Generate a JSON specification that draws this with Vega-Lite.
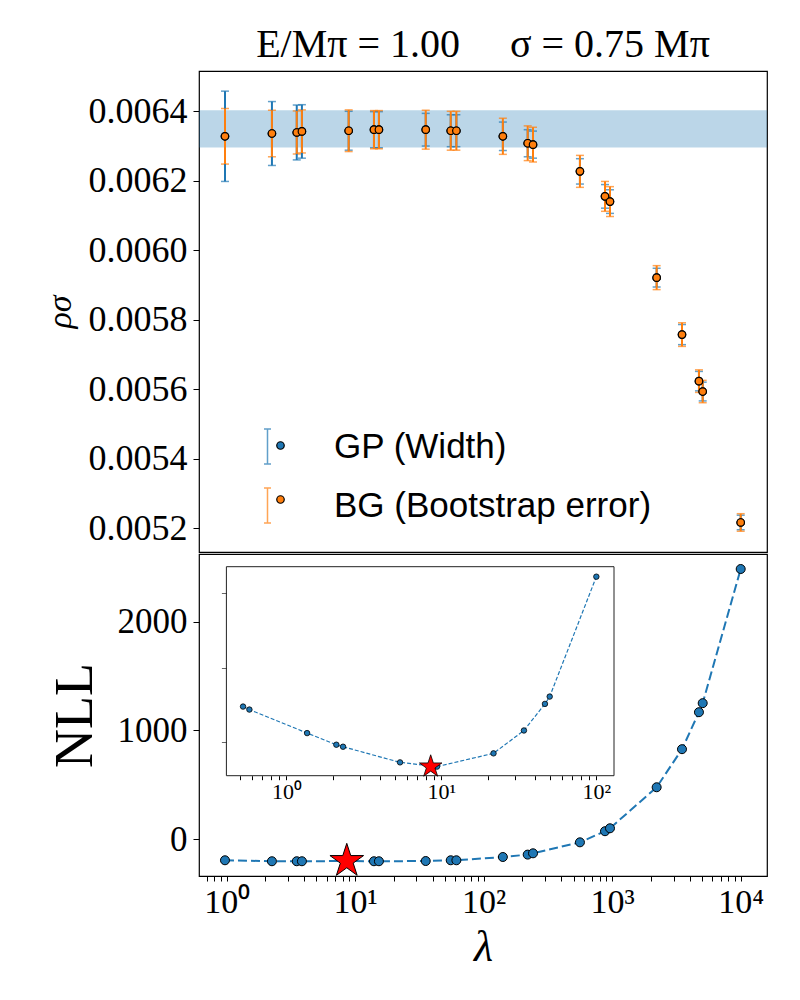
{
  "$schema": "https://vega.github.io/schema/vega-lite/v6.json",
  "padding": {"left": 42, "top": 24, "right": 10, "bottom": 10},
  "background": "white",
  "spacing": 0,
  "config": {
    "view": {"stroke": "black", "strokeWidth": 1.2},
    "axis": {"grid": false, "domain": false, "tickColor": "black", "labelColor": "black", "titleColor": "black", "labelFont": "Liberation Serif", "titleFont": "Liberation Serif", "titleFontWeight": "normal"}
  },
  "datasets": {
    "top": [
      {"lam": 0.97, "val": 0.006328, "err": 0.00013, "s": "GP (Width)"},
      {"lam": 2.25, "val": 0.006336, "err": 0.000092, "s": "GP (Width)"},
      {"lam": 3.51, "val": 0.006339, "err": 0.000079, "s": "GP (Width)"},
      {"lam": 3.85, "val": 0.006342, "err": 0.000077, "s": "GP (Width)"},
      {"lam": 8.9, "val": 0.006344, "err": 0.000056, "s": "GP (Width)"},
      {"lam": 14.0, "val": 0.006347, "err": 0.000052, "s": "GP (Width)"},
      {"lam": 15.3, "val": 0.006347, "err": 0.000052, "s": "GP (Width)"},
      {"lam": 35.4, "val": 0.006347, "err": 0.000047, "s": "GP (Width)"},
      {"lam": 55.4, "val": 0.006344, "err": 0.000046, "s": "GP (Width)"},
      {"lam": 61.3, "val": 0.006344, "err": 0.000046, "s": "GP (Width)"},
      {"lam": 141, "val": 0.006328, "err": 0.000041, "s": "GP (Width)"},
      {"lam": 220, "val": 0.006308, "err": 0.000039, "s": "GP (Width)"},
      {"lam": 242, "val": 0.006304, "err": 0.000039, "s": "GP (Width)"},
      {"lam": 561, "val": 0.006227, "err": 0.0000365, "s": "GP (Width)"},
      {"lam": 879, "val": 0.006155, "err": 0.000034, "s": "GP (Width)"},
      {"lam": 961, "val": 0.00614, "err": 0.000034, "s": "GP (Width)"},
      {"lam": 2218, "val": 0.005921, "err": 0.000027, "s": "GP (Width)"},
      {"lam": 3493, "val": 0.005757, "err": 0.000029, "s": "GP (Width)"},
      {"lam": 4733, "val": 0.005623, "err": 0.000028, "s": "GP (Width)"},
      {"lam": 5061, "val": 0.005593, "err": 0.000027, "s": "GP (Width)"},
      {"lam": 10000, "val": 0.005216, "err": 0.000021, "s": "GP (Width)"},
      {"lam": 0.97, "val": 0.006328, "err": 0.00008, "s": "BG (Bootstrap error)"},
      {"lam": 2.25, "val": 0.006336, "err": 0.000067, "s": "BG (Bootstrap error)"},
      {"lam": 3.51, "val": 0.006339, "err": 0.000062, "s": "BG (Bootstrap error)"},
      {"lam": 3.85, "val": 0.006342, "err": 0.000062, "s": "BG (Bootstrap error)"},
      {"lam": 8.9, "val": 0.006344, "err": 0.00006, "s": "BG (Bootstrap error)"},
      {"lam": 14.0, "val": 0.006347, "err": 0.000055, "s": "BG (Bootstrap error)"},
      {"lam": 15.3, "val": 0.006347, "err": 0.000055, "s": "BG (Bootstrap error)"},
      {"lam": 35.4, "val": 0.006347, "err": 0.000056, "s": "BG (Bootstrap error)"},
      {"lam": 55.4, "val": 0.006344, "err": 0.000056, "s": "BG (Bootstrap error)"},
      {"lam": 61.3, "val": 0.006344, "err": 0.000056, "s": "BG (Bootstrap error)"},
      {"lam": 141, "val": 0.006328, "err": 0.000052, "s": "BG (Bootstrap error)"},
      {"lam": 220, "val": 0.006308, "err": 0.00005, "s": "BG (Bootstrap error)"},
      {"lam": 242, "val": 0.006304, "err": 0.00005, "s": "BG (Bootstrap error)"},
      {"lam": 561, "val": 0.006227, "err": 0.000046, "s": "BG (Bootstrap error)"},
      {"lam": 879, "val": 0.006155, "err": 0.000043, "s": "BG (Bootstrap error)"},
      {"lam": 961, "val": 0.00614, "err": 0.000043, "s": "BG (Bootstrap error)"},
      {"lam": 2218, "val": 0.005921, "err": 0.0000345, "s": "BG (Bootstrap error)"},
      {"lam": 3493, "val": 0.005757, "err": 0.000034, "s": "BG (Bootstrap error)"},
      {"lam": 4733, "val": 0.005623, "err": 0.0000325, "s": "BG (Bootstrap error)"},
      {"lam": 5061, "val": 0.005593, "err": 0.0000322, "s": "BG (Bootstrap error)"},
      {"lam": 10000, "val": 0.005216, "err": 0.0000253, "s": "BG (Bootstrap error)"}
    ],
    "nll": [
      {"lam": 0.97, "nll": -193},
      {"lam": 2.25, "nll": -202},
      {"lam": 3.51, "nll": -202},
      {"lam": 3.85, "nll": -202},
      {"lam": 8.9, "nll": -200},
      {"lam": 14.0, "nll": -202},
      {"lam": 15.3, "nll": -202},
      {"lam": 35.4, "nll": -200},
      {"lam": 55.4, "nll": -193},
      {"lam": 61.3, "nll": -193},
      {"lam": 141, "nll": -163},
      {"lam": 220, "nll": -141},
      {"lam": 242, "nll": -129},
      {"lam": 561, "nll": -28},
      {"lam": 879, "nll": 74},
      {"lam": 961, "nll": 101},
      {"lam": 2218, "nll": 478},
      {"lam": 3493, "nll": 828},
      {"lam": 4733, "nll": 1168},
      {"lam": 5061, "nll": 1251},
      {"lam": 10000, "nll": 2484}
    ],
    "inset": [
      {"lam": 0.525, "v": 47.6},
      {"lam": 0.577, "v": 43.6},
      {"lam": 1.36, "v": 12.0},
      {"lam": 2.10, "v": -3.6},
      {"lam": 2.32, "v": -6.3},
      {"lam": 5.41, "v": -27.3},
      {"lam": 9.37, "v": -33.0},
      {"lam": 21.7, "v": -15.2},
      {"lam": 34.1, "v": 15.5},
      {"lam": 46.6, "v": 51.2},
      {"lam": 50.0, "v": 61.0},
      {"lam": 100, "v": 222}
    ]
  },
  "vconcat": [
    {
      "width": 568,
      "height": 481,
      "title": {"text": "E/Mπ\u00a0= 1.00\u00a0\u00a0\u00a0\u00a0\u00a0σ = 0.75 Mπ", "font": "Liberation Serif", "fontSize": 40, "fontWeight": "normal", "color": "black", "anchor": "middle", "offset": 6},
      "layer": [
        {
          "data": {"values": [{}]},
          "mark": {"type": "rect", "color": "#1f77b4", "opacity": 0.3},
          "encoding": {
            "y": {"datum": 0.006296, "type": "quantitative", "scale": {"domain": [0.005131, 0.006516], "nice": false, "zero": false}},
            "y2": {"datum": 0.006403}
          }
        },
        {
          "data": {"name": "top"},
          "mark": {"type": "errorbar", "thickness": 2, "ticks": {"size": 8, "thickness": 1.5}},
          "encoding": {
            "x": {"field": "lam", "type": "quantitative", "scale": {"type": "log", "domain": [0.609, 16020], "nice": false}, "axis": null},
            "y": {"field": "val", "type": "quantitative", "scale": {"domain": [0.005131, 0.006516], "nice": false, "zero": false},
                  "axis": {"values": [0.0052, 0.0054, 0.0056, 0.0058, 0.006, 0.0062, 0.0064], "format": ".4f", "labelFontSize": 36, "tickSize": 6, "labelPadding": 6, "title": "ρσ", "titleFontSize": 34, "titleFontStyle": "italic", "titlePadding": 11}},
            "yError": {"field": "err"},
            "color": {"field": "s", "type": "nominal", "scale": {"domain": ["GP (Width)", "BG (Bootstrap error)"], "range": ["#1f77b4", "#ff7f0e"]},
                      "legend": {"orient": "none", "legendX": 50, "legendY": 357, "title": null, "padding": 0, "symbolType": "M-0.2,-1H0.2M0,-1V1M-0.2,1H0.2", "symbolSize": 1225, "symbolStrokeWidth": 1.5, "symbolFillColor": "transparent", "labelFont": "Liberation Sans", "labelFontSize": 35, "labelColor": "black", "labelOffset": 48, "labelLimit": 600, "rowPadding": 18}}
          }
        },
        {
          "data": {"name": "top"},
          "mark": {"type": "point", "shape": "circle", "filled": true, "size": 56, "stroke": "black", "strokeWidth": 1.2, "opacity": 1},
          "encoding": {
            "x": {"field": "lam", "type": "quantitative"},
            "y": {"field": "val", "type": "quantitative"},
            "fill": {"field": "s", "type": "nominal", "sort": ["GP (Width)", "BG (Bootstrap error)"], "scale": {"range": ["#1f77b4", "#ff7f0e"]},
                     "legend": {"orient": "none", "legendX": 64, "legendY": 357, "title": null, "padding": 0, "symbolType": "circle", "symbolSize": 56, "symbolStrokeColor": "black", "symbolStrokeWidth": 1.2, "labelFont": "Liberation Sans", "labelFontSize": 35, "labelOpacity": 0, "labelOffset": 48, "labelLimit": 600, "rowPadding": 18}}
          }
        }
      ]
    },
    {
      "width": 568,
      "height": 322,
      "layer": [
        {
          "layer": [
            {
              "data": {"name": "nll"},
              "mark": {"type": "line", "color": "#1f77b4", "strokeWidth": 2, "strokeDash": [9, 4]},
              "encoding": {
                "x": {"field": "lam", "type": "quantitative", "scale": {"type": "log", "domain": [0.609, 16020], "nice": false},
                      "axis": {"orient": "bottom", "values": [0.7, 0.8, 0.9, 1, 2, 3, 4, 5, 6, 7, 8, 9, 10, 20, 30, 40, 50, 60, 70, 80, 90, 100, 200, 300, 400, 500, 600, 700, 800, 900, 1000, 2000, 3000, 4000, 5000, 6000, 7000, 8000, 9000, 10000],
                               "labelExpr": "datum.value == 1 ? '10⁰' : datum.value == 10 ? '10¹' : datum.value == 100 ? '10²' : datum.value == 1000 ? '10³' : datum.value == 10000 ? '10⁴' : ''",
                               "labelOverlap": false, "labelFlush": false, "labelFontSize": 34, "labelPadding": 4, "tickSize": 5,
                               "title": "λ", "titleFontSize": 44, "titleFontStyle": "italic", "titlePadding": 6}},
                "y": {"field": "nll", "type": "quantitative", "scale": {"domain": [-337.6, 2622], "nice": false, "zero": false},
                      "axis": {"orient": "left", "values": [0, 1000, 2000], "format": "d", "labelFontSize": 35, "tickSize": 6, "labelPadding": 6, "title": "NLL", "titleFontSize": 54, "titlePadding": 15}}
              }
            },
            {
              "data": {"name": "nll"},
              "mark": {"type": "point", "shape": "circle", "filled": true, "fill": "#1f77b4", "stroke": "black", "strokeWidth": 1, "size": 81, "opacity": 1},
              "encoding": {
                "x": {"field": "lam", "type": "quantitative"},
                "y": {"field": "nll", "type": "quantitative"}
              }
            },
            {
              "data": {"values": [{"lam": 8.6, "nll": -200}]},
              "mark": {"type": "point", "shape": "M0,-1L0.2245,-0.309L0.9511,-0.309L0.3633,0.118L0.5878,0.809L0,0.382L-0.5878,0.809L-0.3633,0.118L-0.9511,-0.309L-0.2245,-0.309Z", "filled": true, "fill": "red", "stroke": "black", "strokeWidth": 1, "size": 1250, "opacity": 1},
              "encoding": {
                "x": {"field": "lam", "type": "quantitative"},
                "y": {"field": "nll", "type": "quantitative"}
              }
            }
          ]
        },
        {
          "layer": [
            {
              "data": {"values": [{}]},
              "mark": {"type": "rect", "fill": "transparent", "stroke": "#222", "strokeWidth": 1},
              "encoding": {
                "x": {"datum": 0.41, "type": "quantitative", "scale": {"type": "log", "domain": [0.41, 130], "range": [27.4, 415], "nice": false},
                      "axis": {"orient": "bottom", "offset": -100.3, "values": [0.5, 0.6, 0.7, 0.8, 0.9, 1, 2, 3, 4, 5, 6, 7, 8, 9, 10, 20, 30, 40, 50, 60, 70, 80, 90, 100],
                               "labelExpr": "datum.value == 1 ? '10⁰' : datum.value == 10 ? '10¹' : datum.value == 100 ? '10²' : ''",
                               "labelOverlap": false, "labelFlush": false, "labelFontSize": 22, "labelPadding": 2, "tickSize": 4,
                               "title": null}},
                "x2": {"datum": 130},
                "y": {"datum": -45.2, "type": "quantitative", "scale": {"domain": [-45.2, 235.4], "range": [221.7, 12.7], "nice": false, "zero": false},
                      "axis": {"orient": "left", "offset": -27.4, "values": [0, 100, 200], "labels": false, "tickSize": 5, "tickColor": "#666", "title": null}},
                "y2": {"datum": 235.4}
              }
            },
            {
              "data": {"name": "inset"},
              "mark": {"type": "line", "color": "#1f77b4", "strokeWidth": 1.2, "strokeDash": [4, 2]},
              "encoding": {
                "x": {"field": "lam", "type": "quantitative"},
                "y": {"field": "v", "type": "quantitative"}
              }
            },
            {
              "data": {"name": "inset"},
              "mark": {"type": "point", "shape": "circle", "filled": true, "fill": "#1f77b4", "stroke": "black", "strokeWidth": 0.8, "size": 30, "opacity": 1},
              "encoding": {
                "x": {"field": "lam", "type": "quantitative"},
                "y": {"field": "v", "type": "quantitative"}
              }
            },
            {
              "data": {"values": [{"lam": 8.53, "v": -33.0}]},
              "mark": {"type": "point", "shape": "M0,-1L0.2245,-0.309L0.9511,-0.309L0.3633,0.118L0.5878,0.809L0,0.382L-0.5878,0.809L-0.3633,0.118L-0.9511,-0.309L-0.2245,-0.309Z", "filled": true, "fill": "red", "stroke": "black", "strokeWidth": 0.8, "size": 560, "opacity": 1},
              "encoding": {
                "x": {"field": "lam", "type": "quantitative"},
                "y": {"field": "v", "type": "quantitative"}
              }
            }
          ]
        }
      ],
      "resolve": {"scale": {"x": "independent", "y": "independent"}, "axis": {"x": "independent", "y": "independent"}}
    }
  ],
  "resolve": {"scale": {"x": "independent", "y": "independent", "color": "independent", "fill": "independent"}}
}
